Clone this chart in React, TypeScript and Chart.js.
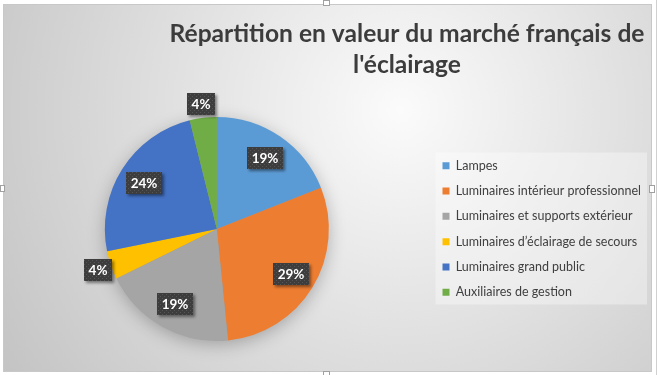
import React, { useEffect, useRef } from "react";
import { Chart, registerables } from "chart.js";

Chart.register(...registerables);

const categories = [
  "Lampes",
  "Luminaires intérieur professionnel",
  "Luminaires et supports extérieur",
  "Luminaires d’éclairage de secours",
  "Luminaires grand public",
  "Auxiliaires de gestion",
];
const shares = [19.0, 29.4, 19.3, 4.1, 24.3, 3.9];
const colors = ["#5B9BD5", "#ED7D31", "#A5A5A5", "#FFC000", "#4472C4", "#70AD47"];
const titleLines = ["Répartition en valeur du marché français de", "l'éclairage"];

const W = 659;
const H = 375;
const FONT = "Lato, 'Open Sans', sans-serif";

function makeDotPattern(ctx: CanvasRenderingContext2D) {
  const c = document.createElement("canvas");
  c.width = 4;
  c.height = 4;
  const p = c.getContext("2d")!;
  p.fillStyle = "#3d3d3d";
  p.fillRect(0, 0, 4, 4);
  p.fillStyle = "#555555";
  p.fillRect(0, 0, 1, 1);
  p.fillRect(2, 2, 1, 1);
  return ctx.createPattern(c, "repeat");
}

const backgroundPlugin = {
  id: "excelBackground",
  beforeDraw(chart: any) {
    const ctx: CanvasRenderingContext2D = chart.ctx;
    ctx.save();
    ctx.fillStyle = "#ffffff";
    ctx.fillRect(0, 0, W, H);
    const x0 = 3, y0 = 4, x1 = 652, y1 = 372;
    const g = ctx.createRadialGradient(400, 110, 0, 400, 110, 470);
    g.addColorStop(0, "#fbfbfb");
    g.addColorStop(1, "#c4c4c4");
    ctx.fillStyle = g;
    ctx.fillRect(x0, y0, x1 - x0, y1 - y0);
    ctx.strokeStyle = "#c8c8c8";
    ctx.lineWidth = 1;
    ctx.strokeRect(x0 + 0.5, y0 + 0.5, x1 - x0 - 1, y1 - y0 - 1);
    ctx.strokeStyle = "#d0d0d0";
    ctx.beginPath();
    ctx.moveTo(656.5, 0);
    ctx.lineTo(656.5, H);
    ctx.stroke();
    ctx.fillStyle = "#ffffff";
    ctx.strokeStyle = "#a0a0a0";
    const hs = [
      [0, 185, 5, 7],
      [649, 185, 6, 8],
      [323, 0, 7, 6],
      [323, 371, 7, 6],
    ];
    hs.forEach(([x, y, w, h]) => {
      ctx.fillRect(x, y, w, h);
      ctx.strokeRect(x + 0.5, y + 0.5, w - 1, h - 1);
    });

    const legend = chart.legend;
    if (legend && legend.legendHitBoxes && legend.legendHitBoxes.length) {
      const hb = legend.legendHitBoxes;
      let l = Infinity, t = Infinity, r = -Infinity, b = -Infinity;
      hb.forEach((h: any) => {
        l = Math.min(l, h.left);
        t = Math.min(t, h.top);
        r = Math.max(r, h.left + h.width);
        b = Math.max(b, h.top + h.height);
      });
      ctx.fillStyle = "rgba(255,255,255,0.35)";
      ctx.fillRect(l - 7, t - 7, r - l + 13, b - t + 13);
    }
    ctx.restore();
  },
  beforeDatasetsDraw(chart: any) {
    const meta = chart.getDatasetMeta(0);
    const arc = meta.data[0];
    if (!arc) return;
    const { x, y, outerRadius } = arc.getProps(["x", "y", "outerRadius"], true);
    const ctx: CanvasRenderingContext2D = chart.ctx;
    ctx.save();
    ctx.shadowColor = "rgba(0,0,0,0.28)";
    ctx.shadowBlur = 18;
    ctx.shadowOffsetY = 4;
    ctx.fillStyle = "#999";
    ctx.beginPath();
    ctx.arc(x, y, outerRadius - 1, 0, Math.PI * 2);
    ctx.fill();
    ctx.restore();
  },
  afterDatasetsDraw(chart: any) {
    const ctx: CanvasRenderingContext2D = chart.ctx;
    const meta = chart.getDatasetMeta(0);
    const total = shares.reduce((a, b) => a + b, 0);
    const pattern = makeDotPattern(ctx);
    ctx.save();
    ctx.font = `bold 13.5px ${FONT}`;
    ctx.textAlign = "center";
    ctx.textBaseline = "middle";
    meta.data.forEach((arc: any, i: number) => {
      const { x, y, startAngle, endAngle, outerRadius } = arc.getProps(
        ["x", "y", "startAngle", "endAngle", "outerRadius"],
        true
      );
      const pct = (shares[i] / total) * 100;
      const mid = (startAngle + endAngle) / 2;
      const d = pct >= 10 ? outerRadius * 0.77 : outerRadius + 14;
      const cx = x + Math.cos(mid) * d;
      const cy = y + Math.sin(mid) * d;
      const text = `${Math.round(pct)}%`;
      const tw = ctx.measureText(text).width;
      const bw = Math.round(tw + 9);
      const bh = 22;
      const bx = Math.round(cx - bw / 2);
      const by = Math.round(cy - bh / 2);
      ctx.save();
      ctx.shadowColor = "rgba(0,0,0,0.45)";
      ctx.shadowBlur = 3;
      ctx.shadowOffsetX = 2;
      ctx.shadowOffsetY = 2;
      ctx.fillStyle = pattern || "#404040";
      ctx.fillRect(bx, by, bw, bh);
      ctx.restore();
      ctx.fillStyle = "#ffffff";
      ctx.fillText(text, bx + bw / 2, by + bh / 2 + 1);
    });
    ctx.restore();
  },
  afterDraw(chart: any) {
    const ctx: CanvasRenderingContext2D = chart.ctx;
    ctx.save();
    ctx.font = `bold 24.6px ${FONT}`;
    ctx.fillStyle = "#3c3c3c";
    ctx.textAlign = "center";
    ctx.textBaseline = "alphabetic";
    const cx = 407;
    ctx.fillText(titleLines[0], cx, 42);
    ctx.fillText(titleLines[1], cx, 73);
    ctx.restore();
  },
};

export default function App() {
  const ref = useRef<HTMLCanvasElement | null>(null);
  useEffect(() => {
    document.body.style.margin = "0";
    const canvas = ref.current!;
    const chart = new Chart(canvas, {
      type: "pie",
      data: {
        labels: categories,
        datasets: [
          {
            data: shares,
            backgroundColor: colors,
            borderWidth: 0,
          },
        ],
      },
      options: {
        animation: false,
        responsive: false,
        devicePixelRatio: 1,
        layout: { padding: { top: 117, bottom: 34, left: 4, right: 8 } },
        plugins: {
          title: { display: false },
          tooltip: { enabled: false },
          legend: {
            position: "right",
            align: "center",
            labels: {
              boxWidth: 7,
              boxHeight: 7,
              padding: 12.8,
              color: "#404040",
              font: { family: FONT, size: 12.5 },
            },
          },
        },
      },
      plugins: [backgroundPlugin],
    });
    return () => chart.destroy();
  }, []);
  return (
    <div style={{ width: W, height: H, position: "relative" }}>
      <canvas ref={ref} width={W} height={H} style={{ display: "block" }} />
    </div>
  );
}
